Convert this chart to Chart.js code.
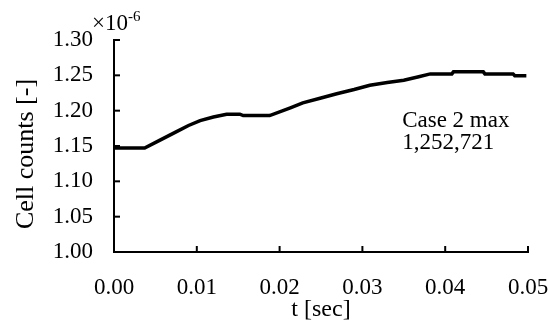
<!DOCTYPE html>
<html>
<head>
<meta charset="utf-8">
<script src="https://cdn.jsdelivr.net/npm/chart.js@4"></script>
<style>
  body { margin: 0; background: #fff; }
  #wrap { width: 548px; height: 322px; position: relative; }
</style>
</head>
<body>
<div id="wrap"><canvas id="graph1"></canvas></div>
<script>
// time (sec) and cell counts (x1e-6)
const times = [0, 0.0037, 0.0055, 0.0075, 0.009, 0.0104, 0.012, 0.0136, 0.0152, 0.0156, 0.0188,
    0.0213, 0.0228, 0.025, 0.0269, 0.029, 0.0309, 0.033, 0.035, 0.0368, 0.0382, 0.0408,
    0.041, 0.0446, 0.0448, 0.0482, 0.0484, 0.0498];
const counts = [1.147, 1.147, 1.158, 1.170, 1.179, 1.186, 1.191, 1.195, 1.195, 1.193, 1.193,
    1.204, 1.211, 1.218, 1.224, 1.230, 1.236, 1.240, 1.243, 1.248, 1.252, 1.252,
    1.255, 1.255, 1.252, 1.252, 1.2495, 1.2495];
const noteLines = ['Case 2 max', '1,252,721'];
const noteAt = { t: 0.0348, v: 1.185 };
const yTitle = 'Cell counts [-]';

const serif = 'Liberation Serif, Times New Roman, serif';

// inward tick marks, y title, the x10^-6 label and the note
const extras = {
    id: 'extras',
    afterDraw(chart) {
        const ctx = chart.ctx;
        const xs = chart.scales.x, ys = chart.scales.y;
        const area = chart.chartArea;
        ctx.save();
        ctx.strokeStyle = '#000';
        ctx.lineWidth = 2;
        xs.ticks.forEach(tk => {
            const px = xs.getPixelForValue(tk.value);
            ctx.beginPath();
            ctx.moveTo(px, area.bottom);
            ctx.lineTo(px, area.bottom - 6);
            ctx.stroke();
        });
        ys.ticks.forEach(tk => {
            const py = ys.getPixelForValue(tk.value);
            ctx.beginPath();
            ctx.moveTo(area.left, py);
            ctx.lineTo(area.left + 6, py);
            ctx.stroke();
        });

        ctx.fillStyle = '#000';

        // y axis title, a bit below the middle like the original
        ctx.save();
        ctx.translate(26, (area.top + area.bottom) / 2 + 8);
        ctx.rotate(-Math.PI / 2);
        ctx.font = '26px ' + serif;
        ctx.textAlign = 'center';
        ctx.textBaseline = 'middle';
        ctx.fillText(yTitle, 0, 0);
        ctx.restore();

        ctx.textBaseline = 'alphabetic';
        ctx.textAlign = 'left';
        ctx.font = '23px ' + serif;
        const bx = area.left - 22, by = area.top - 10;
        ctx.fillText('\u00d710', bx, by);
        const w = ctx.measureText('\u00d710').width;
        ctx.font = '15px ' + serif;
        ctx.fillText('-6', bx + w, by - 9);

        ctx.font = '23px ' + serif;
        ctx.textBaseline = 'middle';
        const nx = xs.getPixelForValue(noteAt.t);
        const ny = ys.getPixelForValue(noteAt.v);
        noteLines.forEach((s, i) => ctx.fillText(s, nx, ny + i * 22));
        ctx.restore();
    }
};

new Chart(document.getElementById('graph1'), {
    type: 'line',
    data: {
        datasets: [{
            label: 'Case 2',
            data: times.map((t, i) => ({ x: t, y: counts[i] })),
            borderColor: '#000',
            backgroundColor: '#000',
            borderWidth: 3.5,
            pointRadius: 0,
            tension: 0
        }]
    },
    options: {
        responsive: true,
        maintainAspectRatio: false,
        animation: false,
        devicePixelRatio: 1,
        layout: { padding: { left: 0, right: 0, top: 40, bottom: 0 } },
        plugins: {
            legend: { display: false },
            tooltip: { enabled: false }
        },
        scales: {
            x: {
                type: 'linear',
                min: 0,
                max: 0.05,
                afterFit: s => { s.height = 70; s.paddingRight = 20; },
                grid: { display: false, drawTicks: false },
                border: { display: true, color: '#000', width: 2 },
                ticks: {
                    stepSize: 0.01,
                    padding: 22,
                    color: '#000',
                    font: { family: serif, size: 23 },
                    maxRotation: 0,
                    callback: v => v.toFixed(2)
                },
                title: {
                    display: true,
                    text: 't [sec]',
                    color: '#000',
                    font: { family: serif, size: 24 },
                    padding: { top: 0, bottom: -2 }
                }
            },
            y: {
                min: 1.0,
                max: 1.3,
                afterFit: s => { s.width = 114; },
                grid: { display: false, drawTicks: false },
                border: { display: true, color: '#000', width: 2 },
                ticks: {
                    stepSize: 0.05,
                    padding: 21,
                    color: '#000',
                    font: { family: serif, size: 23 },
                    callback: v => v.toFixed(2)
                }
            }
        }
    },
    plugins: [extras]
});
</script>
</body>
</html>
